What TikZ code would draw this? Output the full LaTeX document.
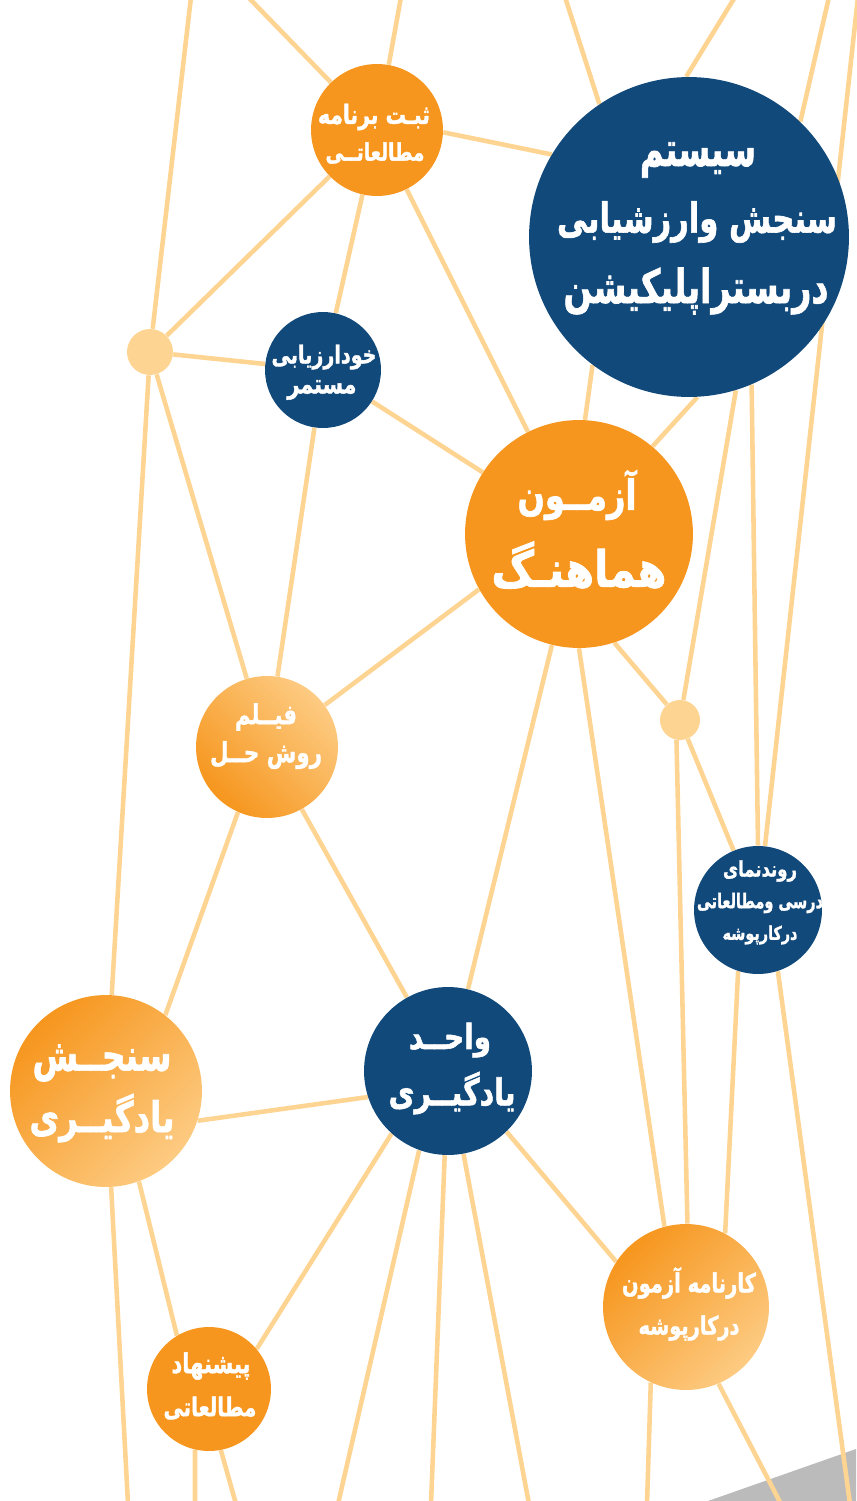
\documentclass[tikz,border=0pt]{standalone}
\usepackage{fontspec}
\usepackage{graphicx}
\newfontfamily\persian[Script=Arabic,BoldFeatures={FakeBold=1.6}]{DejaVu Sans}
\TeXXeTstate=1
\definecolor{navy}{HTML}{11497B}
\definecolor{orng}{HTML}{F6961E}
\definecolor{lite}{HTML}{FED492}
\definecolor{gradc}{HTML}{FDCB82}
\definecolor{grayc}{HTML}{BBBBBB}
\newlength\px
\setlength\px{0.02cm}
\newcommand{\fl}[3]{\scalebox{1}[#3]{\resizebox{#1\px}{!}{\persian\bfseries #2}}}
\pgfdeclarelayer{bg}
\pgfsetlayers{bg,main}
\tikzset{
  link/.style={draw=lite, line width=2.6pt},
  bubble/.style={circle, inner sep=0pt, minimum size=#1*0.04cm},
  navynode/.style={bubble=#1, fill=navy},
  orngnode/.style={bubble=#1, fill=orng},
  dotnode/.style={bubble=#1, fill=lite},
  gradA/.style={bubble=#1, top color=orng, bottom color=gradc, shading angle=135},
  gradB/.style={bubble=#1, top color=orng, bottom color=gradc, shading angle=45},
  txt/.style={inner sep=0pt, text=white}
}
\begin{document}
\begin{tikzpicture}[x=0.02cm,y=-0.02cm]
\useasboundingbox (0,0) rectangle (856,1501);
\clip (0,0) rectangle (856,1501);
% bubbles
\node[orngnode=66] (A) at (377,130) {};
\node[navynode=160] (B) at (689,237) {};
\node[dotnode=23] (C) at (150,352) {};
\node[navynode=58] (D) at (323,370) {};
\node[orngnode=114] (E) at (579,534) {};
\node[gradA=71] (F) at (267,747) {};
\node[dotnode=20] (G) at (680,720) {};
\node[navynode=64] (H) at (758,910) {};
\node[gradB=96] (I) at (106,1091) {};
\node[navynode=84] (J) at (448,1071) {};
\node[gradB=83] (K) at (686,1307) {};
\node[orngnode=62] (L) at (209,1389) {};
% free ends
\coordinate (t1) at (191,-3);
\coordinate (t2) at (248,-3);
\coordinate (t3) at (401,-3);
\coordinate (t5) at (565,-3);
\coordinate (t6) at (735,-3);
\coordinate (t7) at (829,-3);
\coordinate (t8) at (858,-3);
\coordinate (b1) at (128,1504);
\coordinate (b2) at (195,1504);
\coordinate (b3) at (236,1504);
\coordinate (b4) at (338,1504);
\coordinate (b5) at (431,1504);
\coordinate (b6) at (529,1504);
\coordinate (b7) at (647,1504);
\coordinate (b8) at (781,1504);
\coordinate (b9) at (850,1504);
\begin{pgfonlayer}{bg}
\fill[grayc] (708,1501) -- (856,1449) -- (856,1501) -- cycle;
\draw[link] (t1) -- (C);
\draw[link] (t2) -- (A);
\draw[link] (t3) -- (A);
\draw[link] (A.-2) -- (B.149);
\draw[link] (t5) -- (B.124);
\draw[link] (t6) -- (B.91);
\draw[link] (t7) -- (B.46);
\draw[link] (t8) -- (H);
\draw[link] (A) -- (C);
\draw[link] (A) -- (D);
\draw[link] (A) -- (E);
\draw[link] (C) -- (D);
\draw[link] (C) -- (I);
\draw[link] (C) -- (F);
\draw[link] (D) -- (E);
\draw[link] (D) -- (F);
\draw[link] (B.-127) -- (E.87);
\draw[link] (B.-87) -- (E.50);
\draw[link] (B.-73) -- (G);
\draw[link] (B.-67) -- (H.north);
\draw[link] (E.-72) -- (G);
\draw[link] (E.209) -- (F.36);
\draw[link] (E) -- (J);
\draw[link] (E.-90) -- (K.105);
\draw[link] (F.-114) -- (I.52);
\draw[link] (F) -- (J);
\draw[link] (I.-18) -- (J.198);
\draw[link] (I) -- (b1);
\draw[link] (I.-70) -- (L.121);
\draw[link] (L.-103) -- (b2);
\draw[link] (L.-79) -- (b3);
\draw[link] (J.-132) -- (L.40);
\draw[link] (J.-110) -- (b4);
\draw[link] (J) -- (b5);
\draw[link] (J) -- (b6);
\draw[link] (J.-46) -- (K.147);
\draw[link] (K.-115) -- (b7);
\draw[link] (K.-67) -- (b8);
\draw[link] (H.-108) -- (K.62);
\draw[link] (H.-72) -- (b9);
\draw[link] (G) -- (H);
\draw[link] (G.-100) -- (K.89);
\end{pgfonlayer}
% texts
\node[txt] (A1) at (374,117) {\fl{112}{\beginR ثبـت برنامه\endR}{1.3}};
\node[txt] (A2) at (375,153) {\fl{99}{\beginR مطالعاتــی\endR}{1.3}};
\node[txt] (B1) at (698,160) {\fl{116}{\beginR سیستم\endR}{1.5}};
\node[txt] (B2) at (697,222) {\fl{280}{\beginR سنجش وارزشیابی\endR}{1.35}};
\node[txt] (B3) at (696,291) {\fl{265}{\beginR دربستراپلیکیشن\endR}{1.4}};
\node[txt] (D1) at (324,357) {\fl{105}{\beginR خودارزیابی\endR}{1.3}};
\node[txt] (D2) at (322,390) {\fl{69}{\beginR مستمر\endR}{1.3}};
\node[txt] (E1) at (577,495) {\fl{119}{\beginR آزمــون\endR}{1.3}};
\node[txt] (E2) at (579,565) {\fl{175}{\beginR هماهنـگ\endR}{1.2}};
\node[txt] (F1) at (266,717) {\fl{62}{\beginR فیــلم\endR}{1.3}};
\node[txt] (F2) at (266,755) {\fl{112}{\beginR روش حــل\endR}{1.3}};
\node[txt] (H1) at (760,871) {\fl{74}{\beginR روندنمای\endR}{1.3}};
\node[txt] (H2) at (760,903) {\fl{126}{\beginR درسی ومطالعاتی\endR}{1.4}};
\node[txt] (H3) at (760,935) {\fl{75}{\beginR درکارپوشه\endR}{1.3}};
\node[txt] (I1) at (102,1063) {\fl{139}{\beginR سنجــش\endR}{1.35}};
\node[txt] (I2) at (102,1118) {\fl{145}{\beginR یادگیــری\endR}{1.3}};
\node[txt] (J1) at (450,1040) {\fl{82}{\beginR واحــد\endR}{1.25}};
\node[txt] (J2) at (452,1093) {\fl{127}{\beginR یادگیــری\endR}{1.3}};
\node[txt] (K1) at (689,1283) {\fl{134}{\beginR کارنامه آزمون\endR}{1.35}};
\node[txt] (K2) at (689,1328) {\fl{101}{\beginR درکارپوشه\endR}{1.3}};
\node[txt] (L1) at (211,1366) {\fl{79}{\beginR پیشنهاد\endR}{1.3}};
\node[txt] (L2) at (210,1408) {\fl{93}{\beginR مطالعاتی\endR}{1.3}};
\end{tikzpicture}
\end{document}
